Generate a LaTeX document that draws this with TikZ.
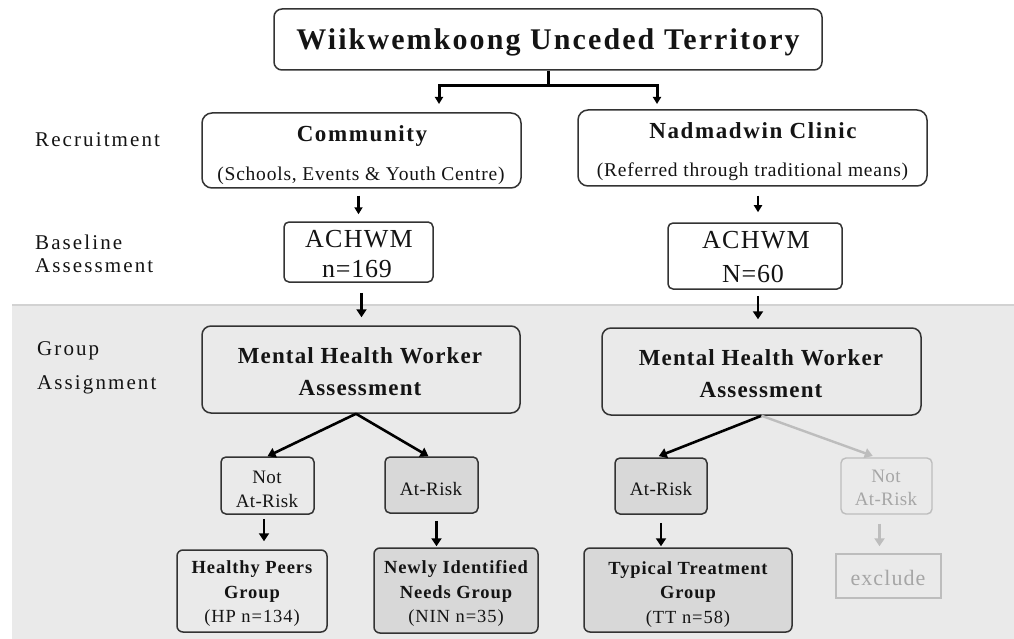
\documentclass[tikz,border=0pt]{standalone}
\usepackage{fontspec}
\setmainfont{Liberation Serif}
\usetikzlibrary{arrows.meta}
\definecolor{bggray}{HTML}{EAEAEA}
\definecolor{bgline}{HTML}{D2D2D2}
\definecolor{boxline}{HTML}{333333}
\definecolor{darkfill}{HTML}{D8D8D8}
\definecolor{faded}{HTML}{BDBDBD}
\definecolor{fadedtext}{HTML}{A6A6A6}
\definecolor{ink}{HTML}{141414}
\newcommand\tx[4]{\fontsize{#1}{#1}#3\selectfont\addfontfeature{LetterSpace=#2}#4}
\begin{document}
\begin{tikzpicture}[x=1pt,y=-1pt,
 box/.style={draw=boxline, line width=1.5pt, rounded corners=7pt, inner sep=0pt},
 grbox/.style={box, fill=darkfill},
 fdbox/.style={draw=faded, line width=1.4pt, inner sep=0pt},
 lbl/.style={anchor=base west, inner sep=0pt, text=ink},
 txt/.style={anchor=base, inner sep=0pt, text=ink},
 ftxt/.style={anchor=base, inner sep=0pt, text=fadedtext},
 arr/.style={draw=black, line width=2.4pt, -{Triangle[length=8pt,width=10pt]}},
 arrs/.style={draw=black, line width=2.2pt, -{Triangle[length=7pt,width=8pt]}},
 farr/.style={draw=faded, line width=2.4pt, -{Triangle[length=8pt,width=10pt]}}]
\useasboundingbox (0,0) rectangle (1014,639);
\fill[white] (0,0) rectangle (1014,639);
\fill[bggray] (12,305) rectangle (1014,639);
\draw[bgline, line width=1.5pt] (12,305) -- (1014,305);

% side labels
\node[lbl] (lrec) at (35,147) {\tx{21}{10}{\mdseries}{Recruitment}};
\node[lbl] (lbas1) at (35,249) {\tx{21}{10}{\mdseries}{Baseline}};
\node[lbl] (lbas2) at (35,272) {\tx{21}{10}{\mdseries}{Assessment}};
\node[lbl] (lgr1) at (37,355) {\tx{21}{10}{\mdseries}{Group}};
\node[lbl] (lgr2) at (37,389) {\tx{21}{10}{\mdseries}{Assignment}};

% boxes
\node[box, rounded corners=8pt, minimum width=548, minimum height=61] (title) at (548,39.5) {};
\node[box, rounded corners=10pt, minimum width=319, minimum height=75] (comm) at (361.5,150.5) {};
\node[box, rounded corners=10pt, minimum width=349, minimum height=76] (clinic) at (752.5,148) {};
\node[box, rounded corners=5pt, minimum width=149, minimum height=60] (ach1) at (358.5,252) {};
\node[box, rounded corners=5pt, minimum width=174, minimum height=66] (ach2) at (755,256) {};
\node[box, rounded corners=9pt, minimum width=318, minimum height=87] (mhw1) at (361,369.5) {};
\node[box, rounded corners=9pt, minimum width=319, minimum height=87] (mhw2) at (761.5,371.5) {};
\node[box, rounded corners=5pt, minimum width=93, minimum height=57] (nar1) at (267.5,485.5) {};
\node[grbox, rounded corners=5pt, minimum width=93, minimum height=56] (ar1) at (431.5,485) {};
\node[grbox, rounded corners=5pt, minimum width=92, minimum height=56] (ar2) at (661,486) {};
\node[fdbox, rounded corners=5pt, minimum width=91, minimum height=56] (nar2) at (886.5,486) {};
\node[box, rounded corners=6pt, minimum width=150, minimum height=82] (hp) at (252,591) {};
\node[grbox, rounded corners=6pt, minimum width=164, minimum height=85] (nin) at (456,590.5) {};
\node[grbox, rounded corners=6pt, minimum width=208, minimum height=84] (tt) at (688,590) {};
\node[fdbox, minimum width=105, minimum height=44] (excl) at (888.5,576) {};

% texts
\node[txt] (ttitle) at (548,50) {\tx{30}{7}{\bfseries}{Wiikwemkoong Unceded Territory}};
\node[txt] (tcomm) at (362,142) {\tx{23}{7}{\bfseries}{Community}};
\node[txt] (tcomm2) at (361,181) {\tx{19.5}{4}{\mdseries}{(Schools, Events \& Youth Centre)}};
\node[txt] (tclin) at (753,139) {\tx{23}{7}{\bfseries}{Nadmadwin Clinic}};
\node[txt] (tclin2) at (752.5,177) {\tx{19.5}{4}{\mdseries}{(Referred through traditional means)}};
\node[txt] (tach1a) at (359,247) {\tx{26}{5}{\mdseries}{ACHWM}};
\node[txt] (tach1b) at (357,277) {\tx{26}{3}{\mdseries}{n=169}};
\node[txt] (tach2a) at (756,248) {\tx{26}{5}{\mdseries}{ACHWM}};
\node[txt] (tach2b) at (753,282) {\tx{26}{3}{\mdseries}{N=60}};
\node[txt] (tmhw1a) at (360,363) {\tx{23}{5}{\bfseries}{Mental Health Worker}};
\node[txt] (tmhw1b) at (360,395) {\tx{23}{5}{\bfseries}{Assessment}};
\node[txt] (tmhw2a) at (761,365) {\tx{23}{5}{\bfseries}{Mental Health Worker}};
\node[txt] (tmhw2b) at (761,397) {\tx{23}{5}{\bfseries}{Assessment}};
\node[txt] (tnar1a) at (267,483) {\tx{19}{2}{\mdseries}{Not}};
\node[txt] (tnar1b) at (267,507) {\tx{19}{2}{\mdseries}{At-Risk}};
\node[txt] (tar1) at (431,495) {\tx{19}{2}{\mdseries}{At-Risk}};
\node[txt] (tar2) at (661,495) {\tx{19}{2}{\mdseries}{At-Risk}};
\node[ftxt] (tnar2a) at (886,482) {\tx{19}{2}{\mdseries}{Not}};
\node[ftxt] (tnar2b) at (886,505) {\tx{19}{2}{\mdseries}{At-Risk}};
\node[txt] (thp1) at (252,573) {\tx{18.5}{5}{\bfseries}{Healthy Peers}};
\node[txt] (thp2) at (252,598) {\tx{18.5}{5}{\bfseries}{Group}};
\node[txt] (thp3) at (252,622) {\tx{18.5}{5}{\mdseries}{(HP n=134)}};
\node[txt] (tnin1) at (456,573) {\tx{18.5}{5}{\bfseries}{Newly Identified}};
\node[txt] (tnin2) at (456,598) {\tx{18.5}{5}{\bfseries}{Needs Group}};
\node[txt] (tnin3) at (456,622) {\tx{18.5}{5}{\mdseries}{(NIN n=35)}};
\node[txt] (ttt1) at (688,574) {\tx{18.5}{5}{\bfseries}{Typical Treatment}};
\node[txt] (ttt2) at (688,598) {\tx{18.5}{5}{\bfseries}{Group}};
\node[txt] (ttt3) at (688,623) {\tx{18.5}{5}{\mdseries}{(TT n=58)}};
\node[ftxt] (texcl) at (888,585) {\tx{22}{5}{\mdseries}{exclude}};

% connectors
\coordinate (tj) at (548,86);
\coordinate (ta) at (439,104);
\coordinate (tb) at (657,104);
\draw[black, line width=3pt] (title.south) -- (tj);
\draw[arrs, line width=3pt, line join=miter] (tj) -| (ta);
\draw[arrs, line width=3pt, line join=miter] (tj) -| (tb);

\draw[arrs, shorten <=7pt, shorten >=7pt] (comm.south -| ach1.north) -- (ach1.north);
\draw[arr, shorten <=10pt, shorten >=8pt] ([xshift=3pt]ach1.south) -- ([xshift=3pt]ach1.south |- mhw1.north);
\draw[arrs, shorten <=9pt, shorten >=10pt] ([xshift=3pt]clinic.south -| ach2.north) -- ([xshift=3pt]ach2.north);
\draw[arr, shorten <=6pt, shorten >=8pt] ([xshift=3pt]ach2.south) -- ([xshift=3pt]ach2.south |- mhw2.north);

\draw[arr, line width=2.6pt] ([xshift=-5pt]mhw1.south) -- (nar1.north);
\draw[arr, line width=2.6pt] ([xshift=-5pt]mhw1.south) -- ([xshift=-3pt]ar1.north);
\draw[arr, line width=2.6pt, shorten >=3pt] (mhw2.south) -- ([xshift=-5pt]ar2.north);
\draw[farr, shorten >=4pt] (mhw2.south) -- ([xshift=-10pt]nar2.north);

\draw[arr, shorten <=4pt, shorten >=8pt] ([xshift=-3.5pt]nar1.south) -- ([xshift=-3.5pt]nar1.south |- hp.north);
\draw[arr, shorten <=7pt, shorten >=1pt] ([xshift=5pt]ar1.south) -- ([xshift=5pt]ar1.south |- nin.north);
\draw[arr, shorten <=8pt, shorten >=1pt] (ar2.south) -- (ar2.south |- tt.north);
\draw[farr, shorten <=9pt, shorten >=7pt] ([xshift=-7pt]nar2.south) -- ([xshift=-7pt]nar2.south |- excl.north);
\end{tikzpicture}
\end{document}
